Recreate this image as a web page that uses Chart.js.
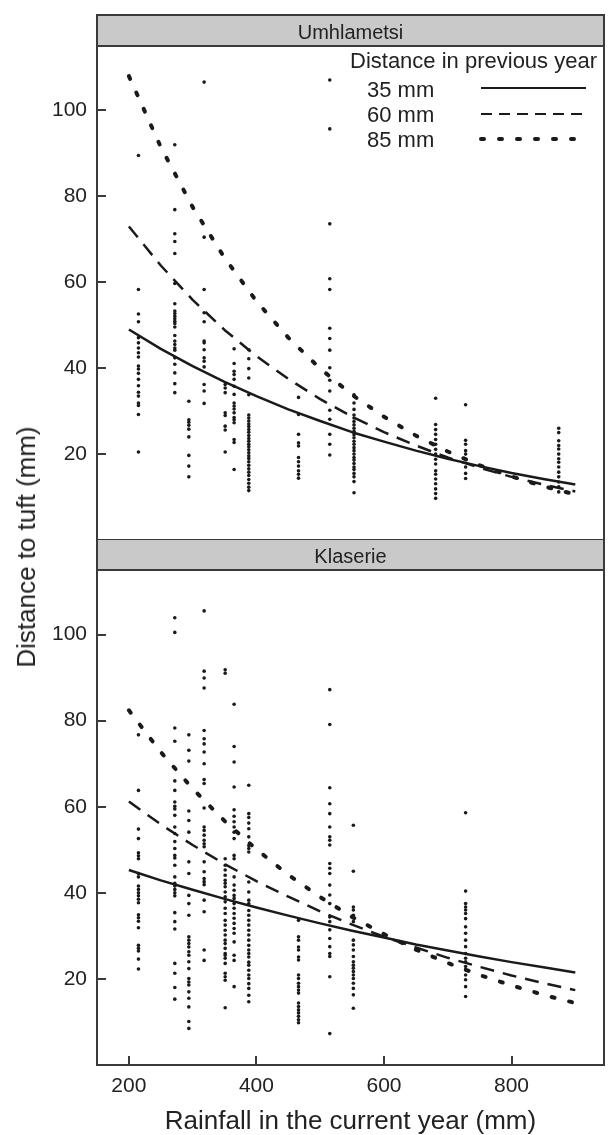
<!DOCTYPE html>
<html>
<head>
<meta charset="utf-8">
<script src="https://cdn.jsdelivr.net/npm/chart.js@4.4.1/dist/chart.umd.min.js"></script>
<style>
  body { margin: 0; background: #fff; }
  #page { position: relative; width: 608px; height: 1135px; overflow: hidden; font-family: "Liberation Sans", Arial, sans-serif; }
  #c1 { position: absolute; left: 0; top: 0; }
  #c2 { position: absolute; left: 0; top: 539px; }
  #ytitle {
    position: absolute; left: 26px; top: 547px;
    transform: translate(-50%, -50%) rotate(-90deg);
    font-size: 26px; line-height: 1; white-space: nowrap; color: #222;
  }
</style>
</head>
<body>
<div id="page">
  <canvas id="c1" width="608" height="544"></canvas>
  <canvas id="c2" width="608" height="596"></canvas>
  <div id="ytitle">Distance to tuft (mm)</div>
</div>
<script>
// rainfall values of the sampled years (mm)
const umhRain = [215, 272, 294, 318, 351, 365, 388, 466, 515, 553, 681, 728, 874];
const klaRain = [215, 272, 294, 318, 351, 365, 388, 466, 515, 552, 728];

// distances to tuft per year, Umhlametsi
const umhDist = [
  [89.5, 58.3, 52.6, 50.8, 47.1, 45.9, 44.7, 43.6, 42.6, 40.5, 39.8, 38.8, 37.4, 35.9, 34.4, 33.5, 31.9, 31.3, 29.2, 20.5],
  [92, 76.9, 71.3, 69.5, 66.7, 59.7, 55.0, 53.3, 52.7, 52.1, 51.5, 50.9, 50.4, 49.6, 47.6, 46.3, 45.5, 44.7, 44.2, 42.4, 40.9, 38.9, 36.4, 34.3],
  [32.3, 28.0, 27.4, 26.7, 25.8, 24.0, 19.7, 17.2, 14.7],
  [106.6, 70.5, 58.3, 52.9, 50.8, 46.3, 45.9, 44.3, 42.4, 41.6, 40.3, 36.2, 34.7, 31.8],
  [36.2, 35.4, 34.3, 29.6, 29.0, 26.5, 25.6, 20.5],
  [44.5, 41.1, 39.3, 38.5, 37.4, 35.8, 33.9, 31.9, 31.2, 30.5, 29.6, 28.5, 28.0, 27.3, 23.4, 22.7, 16.4],
  [44.3, 42.2, 39.9, 37.7, 33.8, 29.1, 28.4, 27.7, 27.0, 26.4, 25.7, 25.1, 24.3, 23.6, 23.0, 22.3, 21.7, 21.0, 20.3, 19.6, 19.0, 18.2, 17.4, 16.6, 15.8, 15.0, 14.1, 13.2, 12.3, 11.5],
  [33.2, 29.2, 24.6, 22.6, 21.9, 19.2, 18.2, 17.2, 16.1, 15.3, 14.4],
  [107.1, 95.7, 73.6, 60.8, 58.3, 49.3, 46.9, 44.2, 40.1, 37.2, 34.7, 30.2, 28.1, 24.6, 22.3, 19.8],
  [33.8, 31.9, 30.4, 29.1, 28.4, 27.6, 26.8, 26.0, 25.3, 24.5, 23.8, 23.0, 22.3, 21.5, 20.8, 20.0, 19.2, 18.6, 17.8, 17.0, 16.4, 15.5, 14.7, 13.6, 11.0],
  [33.0, 26.9, 25.7, 24.6, 23.4, 22.3, 21.1, 20.0, 18.8, 17.7, 16.1, 15.3, 14.2, 13.1, 11.9, 10.8, 9.7],
  [31.5, 23.2, 22.3, 20.8, 20.0, 17.0, 15.5, 14.3],
  [26.0, 25.0, 23.1, 22.0, 21.2, 20.0, 18.9, 18.1, 17.0, 15.8, 14.7, 13.5, 12.4, 11.2],
];

// distances to tuft per year, Klaserie
const klaDist = [
  [76.7, 63.8, 54.8, 52.6, 49.3, 48.6, 47.9, 44.5, 43.7, 41.6, 40.8, 40.0, 39.3, 38.5, 37.7, 34.9, 34.2, 33.4, 31.9, 27.8, 27.1, 26.5, 24.6, 22.3],
  [103.9, 100.5, 78.3, 75.2, 66.0, 63.8, 61.1, 60.1, 59.5, 58.0, 55.3, 53.8, 51.9, 50.3, 48.7, 48.1, 46.4, 43.7, 42.2, 41.6, 40.8, 40.0, 39.3, 35.4, 33.3, 31.6, 23.6, 21.3, 18.0, 15.3],
  [76.7, 73.1, 70.6, 59.0, 56.8, 54.1, 47.2, 44.5, 39.4, 37.5, 34.8, 29.8, 29.0, 28.2, 27.4, 26.3, 25.5, 24.0, 22.4, 20.1, 19.3, 18.6, 17.0, 15.5, 13.5, 10.1, 8.5],
  [105.5, 91.5, 89.9, 87.6, 77.7, 75.8, 74.6, 72.7, 70.0, 66.3, 65.4, 59.7, 55.3, 54.5, 53.4, 52.2, 51.4, 50.7, 47.2, 44.9, 43.3, 42.6, 41.9, 38.3, 35.6, 26.7, 24.3],
  [91.8, 91.0, 47.9, 46.4, 45.3, 44.1, 42.9, 42.2, 41.4, 40.2, 39.1, 37.9, 36.4, 35.2, 33.6, 32.5, 31.3, 30.2, 29.0, 28.2, 27.1, 25.9, 25.5, 24.8, 23.6, 21.3, 20.5, 19.7, 13.3],
  [83.8, 74.0, 70.4, 64.6, 59.3, 57.8, 56.5, 55.3, 54.1, 52.6, 48.7, 47.9, 43.7, 41.8, 40.6, 39.4, 38.7, 37.5, 36.4, 35.2, 34.1, 32.9, 31.7, 30.6, 28.6, 25.5, 24.3, 18.2],
  [65.0, 58.4, 57.5, 56.2, 54.9, 53.0, 51.0, 50.3, 49.5, 42.5, 40.2, 38.3, 37.5, 35.9, 34.8, 33.6, 32.5, 31.3, 30.2, 29.0, 27.8, 26.7, 25.9, 25.1, 23.9, 23.2, 22.0, 20.9, 20.1, 18.9, 17.8, 16.2, 14.7],
  [33.6, 29.8, 29.0, 27.4, 26.7, 25.1, 24.4, 20.9, 20.1, 19.0, 18.2, 17.4, 16.7, 14.4, 13.6, 12.8, 12.1, 11.3, 10.5, 9.8],
  [87.2, 79.1, 64.4, 60.7, 58.4, 55.3, 53.0, 52.2, 51.1, 46.8, 45.7, 44.5, 41.8, 39.5, 37.5, 34.4, 33.3, 31.4, 29.4, 27.5, 25.9, 25.2, 20.5, 7.3],
  [55.7, 45.0, 36.7, 36.0, 34.8, 33.3, 29.0, 27.9, 26.7, 25.2, 24.0, 23.2, 22.5, 21.7, 20.9, 20.1, 19.0, 17.8, 16.3, 13.2],
  [58.6, 40.4, 37.5, 36.7, 36.0, 35.2, 34.0, 32.1, 30.6, 29.0, 27.5, 25.9, 24.8, 24.0, 22.9, 22.1, 20.9, 19.8, 18.2, 15.9],
];

// fitted curves, read at these rainfall values
const curveRain = [200, 250, 300, 350, 400, 450, 500, 550, 600, 650, 700, 750, 800, 850, 900];
const umh35 = [49.0, 44.5, 40.5, 36.8, 33.5, 30.4, 27.7, 25.1, 22.9, 20.8, 18.9, 17.2, 15.6, 14.2, 12.9];
const umh60 = [73.0, 63.9, 55.9, 48.9, 42.8, 37.5, 32.8, 28.7, 25.1, 22.0, 19.2, 16.8, 14.7, 12.9, 11.3];
const umh85 = [108.0, 91.5, 77.5, 65.7, 55.6, 47.1, 39.9, 33.8, 28.7, 24.3, 20.6, 17.4, 14.8, 12.5, 10.6];
const kla35 = [45.3, 42.9, 40.7, 38.6, 36.6, 34.7, 32.9, 31.2, 29.6, 28.0, 26.6, 25.2, 23.9, 22.7, 21.5];
const kla60 = [61.2, 55.9, 51.1, 46.7, 42.7, 39.1, 35.7, 32.6, 29.8, 27.3, 24.9, 22.8, 20.8, 19.0, 17.4];
const kla85 = [82.4, 72.7, 64.2, 56.7, 50.1, 44.2, 39.0, 34.4, 30.4, 26.8, 23.7, 20.9, 18.5, 16.3, 14.4];

const legendLabels = ['35 mm', '60 mm', '85 mm'];
const yTicks = [20, 40, 60, 80, 100];
const xTicks = [200, 400, 600, 800];

const FONT = '"Liberation Sans", Arial, sans-serif';
const INK = '#1a1a1a';
const lineStyles = [
  { borderWidth: 2.5, borderDash: [], borderCapStyle: 'butt' },
  { borderWidth: 2.5, borderDash: [14, 9], borderCapStyle: 'butt' },
  { borderWidth: 4, borderDash: [3, 15], borderCapStyle: 'round' },
];

function points(rain, dist) {
  const out = [];
  rain.forEach((r, i) => {
    dist[i].forEach((d) => out.push({ x: r, y: d }));
  });
  return out;
}

function curve(values, style) {
  return {
    data: curveRain.map((r, i) => ({ x: r, y: values[i] })),
    showLine: true,
    pointRadius: 0,
    borderColor: INK,
    borderJoinStyle: 'round',
    order: 1,
    ...style,
  };
}

// strip header, frame and inward tick marks
const panelFrame = {
  id: 'panelFrame',
  afterDatasetsDraw(chart, args, opts) {
    const { ctx, chartArea: a } = chart;
    const top = a.top - opts.strip;
    const w = a.right - a.left;
    ctx.save();
    ctx.fillStyle = '#c9c9c9';
    ctx.fillRect(a.left, top, w, opts.strip);
    ctx.strokeStyle = '#3a3a3a';
    ctx.lineWidth = 2;
    ctx.strokeRect(a.left, top, w, opts.strip);
    ctx.strokeRect(a.left, a.top, w, a.bottom - a.top);

    ctx.fillStyle = '#222';
    ctx.font = '20px ' + FONT;
    ctx.textAlign = 'center';
    ctx.textBaseline = 'alphabetic';
    ctx.fillText(opts.label, (a.left + a.right) / 2, top + 24);

    ctx.lineWidth = 2;
    ctx.beginPath();
    const y = chart.scales.y;
    y.ticks.forEach((t) => {
      const py = Math.round(y.getPixelForValue(t.value));
      ctx.moveTo(a.left, py);
      ctx.lineTo(a.left + 9, py);
    });
    if (opts.xTicks) {
      const x = chart.scales.x;
      x.ticks.forEach((t) => {
        const px = Math.round(x.getPixelForValue(t.value));
        ctx.moveTo(px, a.bottom);
        ctx.lineTo(px, a.bottom - 9);
      });
    }
    ctx.stroke();
    ctx.restore();
  },
};

const legendBox = {
  id: 'legendBox',
  afterDraw(chart) {
    const { ctx } = chart;
    ctx.save();
    ctx.fillStyle = '#222';
    ctx.font = '22px ' + FONT;
    ctx.textAlign = 'left';
    ctx.textBaseline = 'alphabetic';
    ctx.fillText('Distance in previous year', 350, 68);
    const rows = [97, 122, 147];
    const lines = [88, 114, 139];
    legendLabels.forEach((lab, i) => {
      ctx.fillText(lab, 367, rows[i]);
      const st = lineStyles[i];
      ctx.strokeStyle = INK;
      ctx.lineWidth = i === 2 ? 4 : 2;
      ctx.setLineDash(i === 1 ? [11, 7] : i === 2 ? [3, 15] : []);
      ctx.lineCap = st.borderCapStyle;
      ctx.beginPath();
      ctx.moveTo(481, lines[i]);
      ctx.lineTo(586, lines[i]);
      ctx.stroke();
    });
    ctx.restore();
  },
};

function yScale() {
  return {
    type: 'linear',
    min: 0,
    max: 115,
    afterBuildTicks: (s) => { s.ticks = yTicks.map((v) => ({ value: v })); },
    afterFit: (s) => {
      s.width = 97;
      s.paddingTop = 0;
      s.paddingBottom = 0;
    },
    grid: { display: false, drawTicks: false },
    border: { display: false },
    ticks: { padding: 10, color: '#222', font: { size: 21, family: FONT } },
  };
}

function panel(canvasId, rain, dist, c35, c60, c85, opts) {
  return new Chart(document.getElementById(canvasId), {
    type: 'scatter',
    data: {
      datasets: [
        curve(c35, lineStyles[0]),
        curve(c60, lineStyles[1]),
        curve(c85, lineStyles[2]),
        {
          data: points(rain, dist),
          pointRadius: 1.8,
          pointBackgroundColor: INK,
          pointBorderWidth: 0,
          order: 2,
        },
      ],
    },
    options: {
      responsive: false,
      animation: false,
      devicePixelRatio: 1,
      layout: { padding: opts.padding },
      plugins: {
        legend: { display: false },
        tooltip: { enabled: false },
        panelFrame: { label: opts.label, strip: 31, xTicks: opts.showX },
      },
      scales: {
        x: {
          type: 'linear',
          min: 150,
          max: 945,
          afterBuildTicks: (s) => { s.ticks = xTicks.map((v) => ({ value: v })); },
          afterFit: (s) => {
            s.height = opts.showX ? 70 : 0;
            s.paddingLeft = 0;
            s.paddingRight = 0;
          },
          grid: { display: false, drawTicks: false },
          border: { display: false },
          ticks: { display: opts.showX, padding: 9, color: '#222', font: { size: 21, family: FONT } },
          title: {
            display: opts.showX,
            text: 'Rainfall in the current year (mm)',
            color: '#222',
            font: { size: 26, family: FONT, lineHeight: 1 },
            padding: { top: 0, bottom: 0 },
          },
        },
        y: yScale(),
      },
    },
    plugins: opts.legend ? [panelFrame, legendBox] : [panelFrame],
  });
}

panel('c1', umhRain, umhDist, umh35, umh60, umh85, {
  label: 'Umhlametsi',
  padding: { top: 46, right: 1, bottom: 1, left: 0 },
  showX: false,
  legend: true,
});

panel('c2', klaRain, klaDist, kla35, kla60, kla85, {
  label: 'Klaserie',
  padding: { top: 31, right: 1, bottom: 0, left: 0 },
  showX: true,
  legend: false,
});
</script>
</body>
</html>
